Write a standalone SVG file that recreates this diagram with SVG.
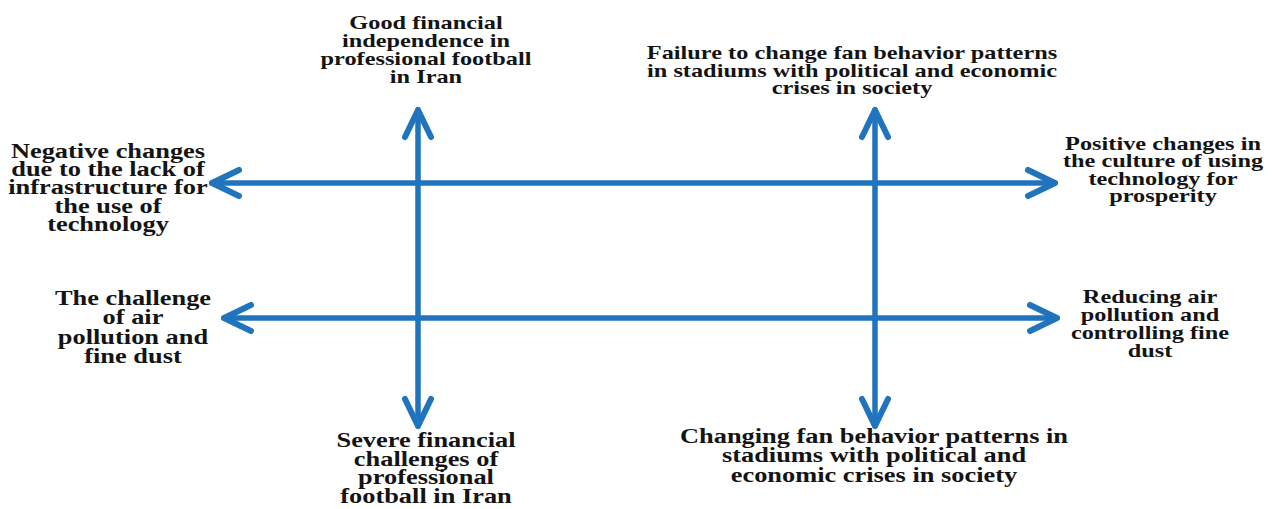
<svg xmlns="http://www.w3.org/2000/svg" width="1272" height="509" viewBox="0 0 1272 509">
<style>
.lbl{font-family:"Liberation Serif","Times New Roman",serif;font-weight:bold;fill:#141414;text-anchor:middle}
.s1{font-size:19px}
.s2{font-size:20px}
.ax{stroke:#1f74bd;stroke-width:5.5;fill:none;stroke-linecap:round}
</style>
<defs>
<marker id="chev" markerUnits="userSpaceOnUse" viewBox="-40 -20 50 40" refX="0" refY="0" markerWidth="50" markerHeight="40" orient="auto-start-reverse" overflow="visible">
<path d="M -27 -13 L 0 0 L -27 13" fill="none" stroke="#1f74bd" stroke-width="6" stroke-linecap="round" stroke-linejoin="round"/>
</marker>
</defs>
<rect width="1272" height="509" fill="#ffffff"/>
<g id="connectors">
<line class="ax" x1="212" y1="183" x2="1055" y2="183" marker-start="url(#chev)" marker-end="url(#chev)"/>
<line class="ax" x1="224" y1="318" x2="1057" y2="318" marker-start="url(#chev)" marker-end="url(#chev)"/>
<line class="ax" x1="418" y1="110" x2="418" y2="426" marker-start="url(#chev)" marker-end="url(#chev)"/>
<line class="ax" x1="875" y1="110" x2="875" y2="426" marker-start="url(#chev)" marker-end="url(#chev)"/>
</g>
<g id="node-good-financial" transform="translate(426 0) scale(1.28 1)">
<text class="lbl s1"><tspan x="0" y="29">Good financial</tspan><tspan x="0" y="47">independence in</tspan><tspan x="0" y="65">professional football</tspan><tspan x="0" y="83">in Iran</tspan></text>
</g>
<g id="node-failure-fan" transform="translate(852 0) scale(1.28 1)">
<text class="lbl s1"><tspan x="0" y="59">Failure to change fan behavior patterns</tspan><tspan x="0" y="77">in stadiums with political and economic</tspan><tspan x="0" y="94">crises in society</tspan></text>
</g>
<g id="node-negative-changes" transform="translate(108 0) scale(1.32 1)">
<text class="lbl s2"><tspan x="0" y="158">Negative changes</tspan><tspan x="0" y="176.3">due to the lack of</tspan><tspan x="0" y="194.5">infrastructure for</tspan><tspan x="0" y="212.8">the use of</tspan><tspan x="0" y="231">technology</tspan></text>
</g>
<g id="node-positive-changes" transform="translate(1163 0) scale(1.28 1)">
<text class="lbl s1"><tspan x="0" y="150">Positive changes in</tspan><tspan x="0" y="167.5">the culture of using</tspan><tspan x="0" y="185">technology for</tspan><tspan x="0" y="202.5">prosperity</tspan></text>
</g>
<g id="node-air-pollution-challenge" transform="translate(133 0) scale(1.32 1)">
<text class="lbl s2"><tspan x="0" y="305">The challenge</tspan><tspan x="0" y="324.5">of air</tspan><tspan x="0" y="344">pollution and</tspan><tspan x="0" y="363">fine dust</tspan></text>
</g>
<g id="node-reducing-pollution" transform="translate(1150 0) scale(1.28 1)">
<text class="lbl s1"><tspan x="0" y="303">Reducing air</tspan><tspan x="0" y="321">pollution and</tspan><tspan x="0" y="339">controlling fine</tspan><tspan x="0" y="357">dust</tspan></text>
</g>
<g id="node-severe-financial" transform="translate(426 0) scale(1.32 1)">
<text class="lbl s2"><tspan x="0" y="447">Severe financial</tspan><tspan x="0" y="465.7">challenges of</tspan><tspan x="0" y="484.3">professional</tspan><tspan x="0" y="503">football in Iran</tspan></text>
</g>
<g id="node-changing-fan" transform="translate(874 0) scale(1.32 1)">
<text class="lbl s2"><tspan x="0" y="443">Changing fan behavior patterns in</tspan><tspan x="0" y="462.5">stadiums with political and</tspan><tspan x="0" y="482">economic crises in society</tspan></text>
</g>
</svg>
